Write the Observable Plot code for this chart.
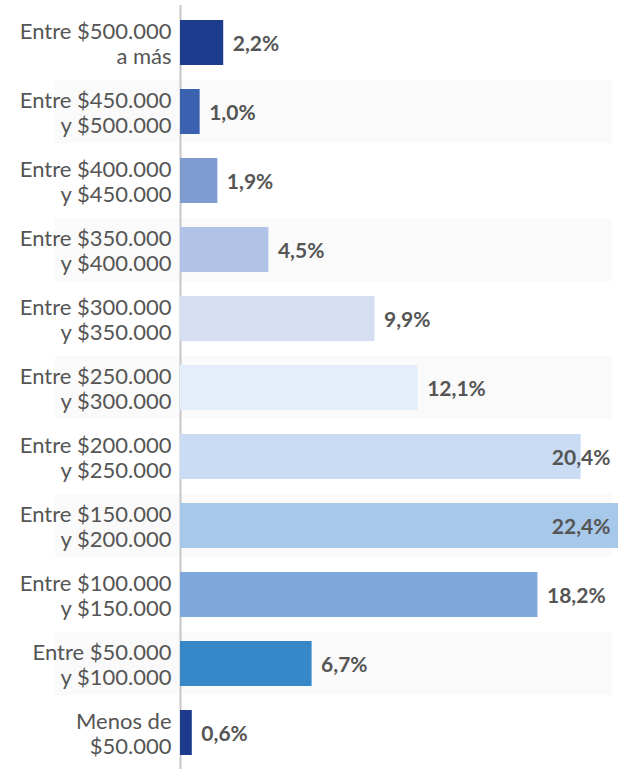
<!DOCTYPE html>
<html>
<head>
<meta charset="utf-8">
<script src="https://cdn.jsdelivr.net/npm/d3@7"></script>
<script src="https://cdn.jsdelivr.net/npm/@observablehq/plot@0.6"></script>
<style>
  html, body { margin: 0; padding: 0; background: #ffffff; }
  #chart svg { display: block; }
</style>
</head>
<body>
<div id="chart"></div>
<script>
const categories = [
  "Entre $500.000\na más",
  "Entre $450.000\ny $500.000",
  "Entre $400.000\ny $450.000",
  "Entre $350.000\ny $400.000",
  "Entre $300.000\ny $350.000",
  "Entre $250.000\ny $300.000",
  "Entre $200.000\ny $250.000",
  "Entre $150.000\ny $200.000",
  "Entre $100.000\ny $150.000",
  "Entre $50.000\ny $100.000",
  "Menos de\n$50.000"
];
const values = [2.2, 1.0, 1.9, 4.5, 9.9, 12.1, 20.4, 22.4, 18.2, 6.7, 0.6];
const colors = ["#1e3c8e", "#3a62b0", "#7f9bd0", "#b0c2e6", "#d6dff2", "#e3eefa",
                "#cadcf3", "#a8c8ea", "#7ea9da", "#3688c9", "#1e3a8c"];

const data = categories.map((c, i) => ({cat: c, value: values[i], color: colors[i], i}));
const banded = data.filter(d => d.i % 2 === 1);
const xMax = 22.3;
const fmt = v => d3.format(".1f")(v).replace(".", ",") + "%";
const inside = data.filter(d => d.value > 19);
const outside = data.filter(d => d.value <= 19);

const chart = Plot.plot({
  width: 618,
  height: 771,
  marginLeft: 180,
  marginRight: 0,
  marginTop: 5,
  marginBottom: 2,
  style: {fontFamily: "Lato, sans-serif", background: "#ffffff"},
  x: {domain: [0, xMax], axis: null},
  y: {domain: categories, axis: null, paddingInner: 0.35, paddingOuter: 0.175},
  marks: [
    Plot.barX(banded, {x1: 0, x2: xMax, y: "cat", fill: "#fafafa",
      insetLeft: -125, insetRight: 6, insetTop: -9, insetBottom: -9}),
    Plot.ruleX([0], {stroke: "#c6c6c6", strokeWidth: 2}),
    Plot.barX(data, {x: "value", y: "cat", fill: "color"}),
    Plot.text(data, {x: 0, y: "cat", text: "cat", textAnchor: "end", dx: -9,
      fontSize: 22, lineHeight: 1.14, fill: "#555555"}),
    Plot.text(outside, {x: "value", y: "cat", text: d => fmt(d.value), textAnchor: "start",
      dx: 9, dy: 1, fontSize: 21, fontWeight: "bold", fill: "#555555"}),
    Plot.text(inside, {x: xMax, y: "cat", text: d => fmt(d.value), textAnchor: "end",
      dx: -8, dy: 1, fontSize: 21, fontWeight: "bold", fill: "#555555"})
  ]
});
document.getElementById("chart").appendChild(chart);
</script>
</body>
</html>
